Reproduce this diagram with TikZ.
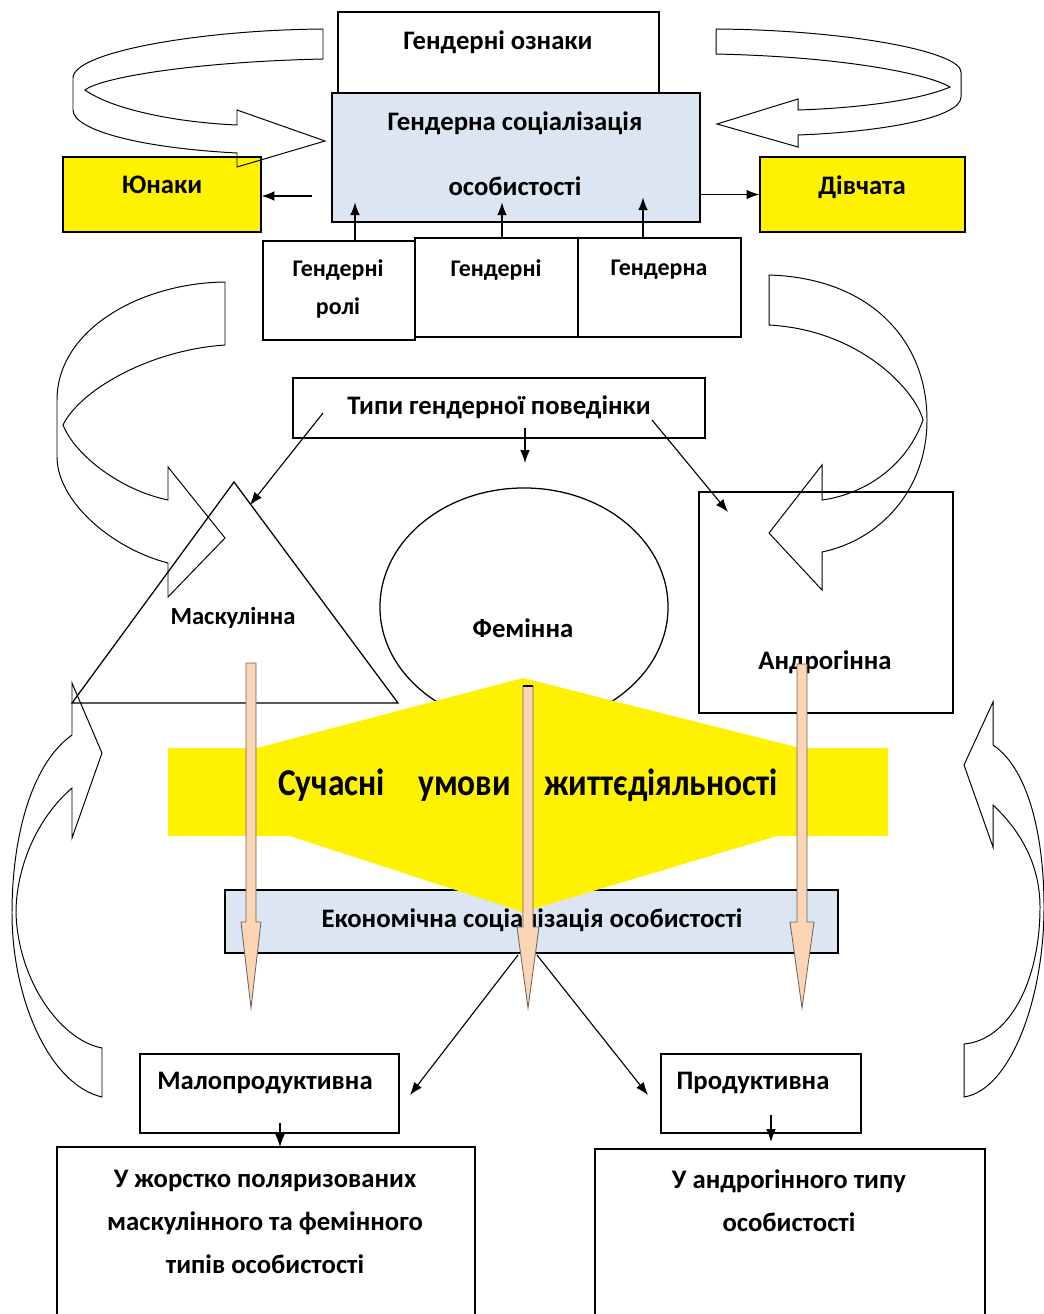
\documentclass[tikz,border=0pt]{standalone}
\usepackage{fontspec}
\setmainfont{Carlito}
\usetikzlibrary{arrows.meta, fit, shapes.geometric}
\definecolor{socblue}{HTML}{DCE6F2}
\definecolor{peach}{HTML}{FCD5B4}

\begin{document}
\begin{tikzpicture}[x=0.025cm, y=-0.025cm,
  box/.style={draw, line width=0.9pt, inner sep=0pt},
  lbl/.style={font=\bfseries\fontsize{19}{23}\selectfont, inner sep=0pt},
  sml/.style={font=\bfseries\fontsize{17}{20}\selectfont, inner sep=0pt},
  arr/.style={line width=0.8pt, -{Latex[length=3.2mm,width=2.4mm]}},
  bandarr/.style={line width=0.7pt, line join=miter},
  peacharr/.style={fill=peach, draw=black!60, line width=0.6pt}]
\useasboundingbox (0,0) rectangle (1044,1314);

% top boxes
\node[box, fit={(338,12) (659,93)}] (ozn) {};
\node[lbl] (oznt) at (498,42) {Гендерні ознаки};
\node[box, fill=socblue, fit={(332,93) (700,222)}] (soc) {};
\node[lbl, align=center, font=\bfseries\fontsize{19}{46}\selectfont] (soct) at (515,154) {Гендерна соціалізація\\особистості};
\node[box, fill=yellow, fit={(63,157) (261,232)}] (yun) {};
\node[lbl] (yunt) at (162,185) {Юнаки};
\node[box, fill=yellow, fit={(760,157) (965,232)}] (div) {};
\node[lbl] (divt) at (862,187) {Дівчата};

% small boxes
\node[box, fit={(263,241) (415,340)}] (roli) {};
\node[sml, align=center, font=\bfseries\fontsize{17}{27}\selectfont] (rolit) at (338,289) {Гендерні\\ролі};
\node[box, fit={(415,238) (578,337)}] (stereo) {};
\node[sml] (stereot) at (496,270) {Гендерні};
\node[box, fit={(578,238) (741,337)}] (ident) {};
\node[sml] (identt) at (659,270) {Гендерна};

% arrows at the top
\coordinate (yunfrom) at (312,196);
\draw[arr] (yunfrom) -- (yunfrom -| yun.east);
\draw[arr] (soc.east |- div.center) -- (div.west);
\draw[arr] (roli.north -| 355,0) -- ++(0,-38);
\draw[arr] (stereo.north -| 502,0) -- ++(0,-35);
\draw[arr] (ident.north -| 643,0) -- ++(0,-40);

% types
\node[box, fit={(293,378) (705,438)}] (tipy) {};
\node[lbl] (tipyt) at (499,407) {Типи гендерної поведінки};
\draw[line width=0.9pt] (72,703) coordinate (mleft) -- (234,482) coordinate (mtop) -- (398,703) coordinate (mright) -- cycle;
\node[draw, ellipse, line width=0.9pt, minimum width=7.2cm, minimum height=5.95cm] (fem) at (524,607) {};
\node[box, fit={(699,492) (953,713)}] (andr) {};

\coordinate (ta) at (323,413);
\coordinate (tb) at (525,428);
\coordinate (tc) at (652,420);
\coordinate (toMask) at (250,505);
\coordinate (toFem) at (525,463);
\coordinate (toAndr) at (728,512);
\draw[arr] (ta) -- (toMask);
\draw[arr] (tb) -- (toFem);
\draw[arr] (tc) -- (toAndr);

% economic box and yellow
\node[box, fill=socblue, fit={(225,890) (838,953)}] (econ) {};
\fill[yellow] (523,678) -- (800,748) -- (888,748) -- (888,836) -- (777,836) -- (523,912) -- (290,836) -- (168,836) -- (168,748) -- (257,748) -- cycle;

\node[sml, font=\bfseries\fontsize{17.5}{20}\selectfont] (maskt) at (233,618) {Маскулінна};
\node[lbl] (femt) at (523,628) {Фемінна};
\node[lbl] (andrt) at (825,662) {Андрогінна};
\node[inner sep=0pt, font=\bfseries\fontsize{27}{30}\selectfont] (umovy) at (528,785) {\scalebox{0.88}[1]{Сучасні\quad умови\quad життєдіяльності}};
\node[lbl] (econt) at (532,920) {Економічна соціалізація особистості};

% result boxes
\node[box, fit={(140,1054) (399,1133)}] (malo) {};
\node[lbl] (malot) at (265,1083) {Малопродуктивна};
\node[box, fit={(661,1054) (861,1133)}] (prod) {};
\node[lbl] (prodt) at (753,1083) {Продуктивна};

\coordinate (sl) at (518,955);
\coordinate (sr) at (537,955);
\coordinate (toMalo) at (410,1095);
\coordinate (toProd) at (648,1095);
\draw[arr] (sl) -- (toMalo);
\draw[arr] (sr) -- (toProd);

\draw[line width=0.9pt] (57,1314) |- (475,1147) coordinate[pos=0.75] (polar) -- (475,1314);
\draw[line width=0.9pt] (595,1314) |- (985,1149) coordinate[pos=0.75] (andrbox) -- (985,1314);
\node[lbl, align=center, font=\bfseries\fontsize{19}{30.6}\selectfont] (polart) at (265,1222) {У жорстко поляризованих\\маскулінного та фемінного\\типів особистості};
\node[lbl, align=center, font=\bfseries\fontsize{19}{30.6}\selectfont] (andrboxt) at (789,1201) {У андрогінного типу\\особистості};
\draw[arr] (280,1123) coordinate (m1) -- (m1 |- polar);
\draw[arr] (771,1115) coordinate (p1) -- (771,1142);

% curved arrows
\draw[bandarr] (323,29) .. controls (200,30) and (73,52) .. (73,78) -- (73,110) .. controls (73,130) and (140,148) .. (237,153) -- (237,167) -- (325,141) -- (237,110) -- (237,125) .. controls (170,122) and (110,108) .. (85,90) .. controls (100,78) and (190,62) .. (323,59) -- cycle;
\draw[bandarr] (716,29) .. controls (850,30) and (961,52) .. (961,72) -- (961,97) .. controls (961,118) and (880,132) .. (798,135) -- (798,147) -- (717,124) -- (798,99) -- (798,110) .. controls (860,108) and (920,100) .. (950,87) .. controls (930,75) and (850,57) .. (716,54) -- cycle;
\draw[bandarr] (225,282) .. controls (140,283) and (57,330) .. (57,400) -- (57,457) .. controls (57,500) and (110,548) .. (168,563) -- (168,597) -- (225,538) -- (168,467) -- (168,500) .. controls (120,490) and (75,455) .. (63,425) .. controls (80,390) and (150,350) .. (225,345) -- cycle;
\draw[bandarr] (769,275) .. controls (870,278) and (927,340) .. (927,420) .. controls (927,490) and (880,540) .. (822,552) -- (822,590) -- (769,533) -- (822,465) -- (822,500) .. controls (860,495) and (905,470) .. (923,420) .. controls (915,390) and (860,330) .. (769,325) -- cycle;
\draw[bandarr] (102,1097) .. controls (50,1085) and (12,1000) .. (12,913) .. controls (12,840) and (30,765) .. (72,735) -- (72,683) -- (102,753) -- (72,838) -- (72,788) .. controls (35,820) and (16,870) .. (16,913) .. controls (18,980) and (60,1040) .. (102,1048) -- cycle;
\draw[bandarr] (964,1097) .. controls (1010,1090) and (1044,1000) .. (1044,907) .. controls (1044,840) and (1030,770) .. (993,745) -- (993,702) -- (964,765) -- (993,847) -- (993,805) .. controls (1025,835) and (1040,870) .. (1040,907) .. controls (1040,980) and (1010,1040) .. (964,1044) -- cycle;

% peach arrows
\filldraw[peacharr] (246,663) -- (256,663) -- (256,922) -- (261,922) -- (251,1008) -- (241,922) -- (246,922) -- cycle;
\filldraw[peacharr] (523,686) -- (533,686) -- (533,927) -- (539,927) -- (528,1008) -- (517,927) -- (523,927) -- cycle;
\filldraw[peacharr] (797,664) -- (807,664) -- (807,922) -- (814,922) -- (802,1008) -- (790,922) -- (797,922) -- cycle;
\draw[line width=1.6pt] (523,686) -- (533,686);
\end{tikzpicture}
\end{document}
